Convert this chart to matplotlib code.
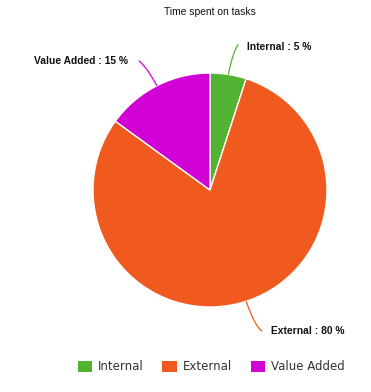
import matplotlib
matplotlib.use("Agg")
import matplotlib.pyplot as plt
import numpy as np
from matplotlib.path import Path
from matplotlib.patches import PathPatch

categories = ["Internal", "External", "Value Added"]
values = [5, 80, 15]
colors = ["#52b232", "#f05a1e", "#d000d6"]
title = "Time spent on tasks"

W, H = 371, 392
fig = plt.figure(figsize=(W / 100, H / 100), dpi=100)
ax = fig.add_axes([0, 0, 1, 1])
ax.set_xlim(0, W)
ax.set_ylim(0, H)
ax.set_aspect("equal")
ax.axis("off")

cx, cy, r = 210, H - 190, 117
wedges, _ = ax.pie(values, colors=colors, startangle=90, counterclock=False,
                   center=(cx, cy), radius=r, frame=True,
                   wedgeprops=dict(edgecolor="white", linewidth=1))
ax.set_xlim(0, W)
ax.set_ylim(0, H)
ax.axis("off")

total = sum(values)
leader = {
    "Internal": ((5, 24), (10, 30), "left", (9, -3)),
    "Value Added": ((-11, 20), (-18, 25), "right", (-11, 0)),
    "External": ((9, -26), (16, -30), "left", (9, 0)),
}
cum = 0
for name, v, c in zip(categories, values, colors):
    mid = 90 - (cum + v / 2) / total * 360
    cum += v
    a = np.deg2rad(mid)
    x0, y0 = cx + r * np.cos(a), cy + r * np.sin(a)
    (cdx, cdy), (edx, edy), ha, (tdx, tdy) = leader[name]
    path = Path([(x0, y0), (x0 + cdx, y0 + cdy), (x0 + edx, y0 + edy)],
                [Path.MOVETO, Path.CURVE3, Path.CURVE3])
    ax.add_patch(PathPatch(path, fill=False, edgecolor=c, linewidth=0.9))
    ax.text(x0 + edx + tdx, y0 + edy + tdy, f"{name} : {v} %", ha=ha, va="center",
            fontsize=7.4, fontweight="bold", family="Liberation Sans", color="#111111")

ax.text(210, H - 12, title, ha="center", va="center", fontsize=7.4,
        family="Liberation Sans", color="#111111")

leg = ax.legend(wedges, categories, loc="center", bbox_to_anchor=(211 / W, 1 - 367 / H),
                ncol=3, frameon=False, prop=dict(family="DejaVu Sans", size=8.5),
                handlelength=1.25, handleheight=1.0, columnspacing=1.6, handletextpad=0.45)
for t in leg.get_texts():
    t.set_color("#333333")
for h in leg.legend_handles:
    h.set_edgecolor("none")

fig.savefig("out.png", dpi=100)
